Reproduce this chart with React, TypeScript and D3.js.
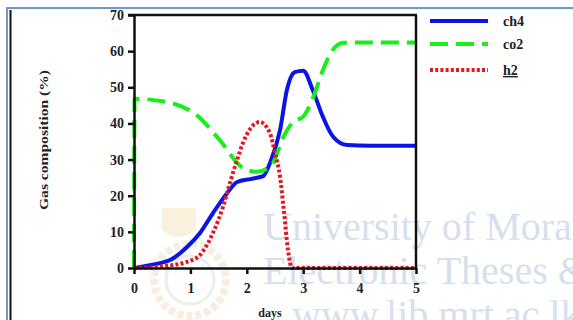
import React, { useEffect, useRef } from 'react';
import * as d3 from 'd3';

type Pt = [number, number];

// days vs gas composition (%)
const ch4: Pt[] = [
  [0, 0], [0.28, 0.8], [0.64, 2.2], [0.94, 5.8], [1.17, 9.7], [1.4, 15.2], [1.65, 20.7],
  [1.83, 23.8], [2.06, 24.6], [2.29, 25.4], [2.41, 29], [2.59, 38.2], [2.71, 49.2],
  [2.85, 54.2], [3.0, 54.6], [3.17, 49.2], [3.35, 41.8], [3.53, 36.3], [3.78, 34],
  [4.2, 33.8], [5, 33.8],
];
const co2: Pt[] = [
  [0, 0], [0.01, 46.8], [0.64, 45.7], [1.11, 42.3], [1.52, 35.4], [1.93, 27.7],
  [2.18, 26.6], [2.44, 28.5], [2.65, 36.3], [2.82, 40.4], [3.0, 41.9], [3.18, 47.3],
  [3.35, 54.8], [3.49, 59.5], [3.71, 62.3], [4.2, 62.4], [5, 62.4],
];
const h2: Pt[] = [
  [0, 0], [0.52, 0.5], [0.94, 1.7], [1.17, 3.6], [1.4, 9.7], [1.58, 17], [1.7, 23.5],
  [1.83, 30], [1.93, 34.5], [2.23, 40.4], [2.41, 37.3], [2.5, 31.8], [2.59, 25.2],
  [2.65, 17], [2.73, 5], [2.8, 0], [3.5, 0], [5, 0],
];
const yTicks = [0, 10, 20, 30, 40, 50, 60, 70];
const xTicks = [0, 1, 2, 3, 4, 5];
const seriesNames = ['ch4', 'co2', 'h2'];
const watermark = ['University of Mora', 'Electronic Theses &', 'www.lib.mrt.ac.lk'];

const App: React.FC = () => {
  const svgRef = useRef<SVGSVGElement>(null);

  useEffect(() => {
    if (!svgRef.current) return;
    const svg = d3.select(svgRef.current);
    svg.selectAll('*').remove();

    const font = '"Liberation Serif", "DejaVu Serif", serif';
    const x = d3.scaleLinear().domain([0, 5]).range([134, 416]);
    const y = d3.scaleLinear().domain([0, 70]).range([268, 15]);

    // page frame
    svg.append('rect').attr('width', 573).attr('height', 320).attr('fill', '#fff');
    svg.append('line').attr('x1', 6).attr('x2', 573).attr('y1', 8).attr('y2', 8)
      .attr('stroke', '#6f97c9').attr('stroke-width', 2);
    svg.append('line').attr('x1', 7).attr('x2', 7).attr('y1', 8).attr('y2', 320)
      .attr('stroke', '#6f97c9').attr('stroke-width', 2);
    svg.append('line').attr('x1', 10.5).attr('x2', 10.5).attr('y1', 10).attr('y2', 320)
      .attr('stroke', '#111').attr('stroke-width', 2);

    // watermark (faint crest + text)
    const crest = svg.append('g').attr('opacity', 0.18);
    crest.append('circle').attr('cx', 190).attr('cy', 280).attr('r', 36)
      .attr('fill', 'none').attr('stroke', '#d9a060').attr('stroke-width', 8)
      .attr('stroke-dasharray', '6 3');
    crest.append('circle').attr('cx', 190).attr('cy', 280).attr('r', 24)
      .attr('fill', 'none').attr('stroke', '#a0a890').attr('stroke-width', 3);
    crest.append('path').attr('d', 'M162,208 L196,208 L196,230 Q179,244 162,230 Z')
      .attr('fill', '#e0b840');
    svg.append('g').selectAll('text').data(watermark).enter().append('text')
      .attr('x', (d, i) => (i === 2 ? 292 : 263))
      .attr('y', (d, i) => 240 + i * 44)
      .attr('font-family', font).attr('font-size', 40)
      .attr('fill', '#d6e0ed')
      .text(d => d);

    // series lines
    const line = d3.line<Pt>().x(d => x(d[0])).y(d => y(d[1])).curve(d3.curveMonotoneX);
    const styles = [
      { data: ch4, color: '#0a14e6', dash: null as string | null },
      { data: co2, color: '#1aee1a', dash: '18 8' },
      { data: h2, color: '#e01a24', dash: '3 2.2' },
    ];
    styles.forEach(s => {
      svg.append('path').attr('d', line(s.data) as string)
        .attr('fill', 'none').attr('stroke', s.color).attr('stroke-width', 4)
        .attr('stroke-dasharray', s.dash);
    });

    // axes
    const yAxis = svg.append('g').attr('transform', `translate(${x(0)},0)`)
      .call(d3.axisLeft(y).tickValues(yTicks).tickFormat(d3.format('d'))
        .tickSizeInner(6).tickSizeOuter(0).tickPadding(4));
    const xAxis = svg.append('g').attr('transform', `translate(0,${y(0)})`)
      .call(d3.axisBottom(x).tickValues(xTicks).tickFormat(d3.format('d'))
        .tickSizeInner(6).tickSizeOuter(0).tickPadding(9));
    [yAxis, xAxis].forEach(a => {
      a.select('.domain').attr('stroke', '#111').attr('stroke-width', 2.5);
      a.selectAll('.tick line').attr('stroke', '#111').attr('stroke-width', 2.5);
      a.selectAll('.tick text').attr('font-family', font).attr('font-size', 14)
        .attr('font-weight', 'bold').attr('fill', '#222');
    });

    // top and right frame of plot
    svg.append('line').attr('x1', x(0) - 6).attr('x2', x(5) + 1).attr('y1', y(70)).attr('y2', y(70))
      .attr('stroke', '#111').attr('stroke-width', 2.5);
    svg.append('line').attr('x1', x(5)).attr('x2', x(5)).attr('y1', y(70)).attr('y2', y(0))
      .attr('stroke', '#111').attr('stroke-width', 2.5);

    // axis titles
    svg.append('text').attr('transform', 'translate(48,140) rotate(-90)')
      .attr('text-anchor', 'middle').attr('font-family', font).attr('font-size', 12)
      .attr('font-weight', 'bold').attr('fill', '#222')
      .attr('textLength', 140).attr('lengthAdjust', 'spacingAndGlyphs')
      .text('Gas composition (%)');
    svg.append('text').attr('x', 270).attr('y', 317).attr('text-anchor', 'middle')
      .attr('font-family', font).attr('font-size', 12).attr('font-weight', 'bold').attr('fill', '#222')
      .text('days');

    // legend
    const legend = svg.append('g');
    styles.forEach((s, i) => {
      const ly = [21, 44, 70][i];
      legend.append('line').attr('x1', 430).attr('x2', 488).attr('y1', ly).attr('y2', ly)
        .attr('stroke', s.color).attr('stroke-width', 4).attr('stroke-dasharray', s.dash);
      legend.append('text').attr('x', 503).attr('y', ly + 5)
        .attr('font-family', font).attr('font-size', 14).attr('font-weight', 'bold').attr('fill', '#222')
        .attr('text-decoration', i === 2 ? 'underline' : null)
        .text(seriesNames[i]);
    });
  }, []);

  return (
    <svg ref={svgRef} width={573} height={320}
      style={{ position: 'absolute', left: 0, top: 0, display: 'block' }} />
  );
};

export default App;
